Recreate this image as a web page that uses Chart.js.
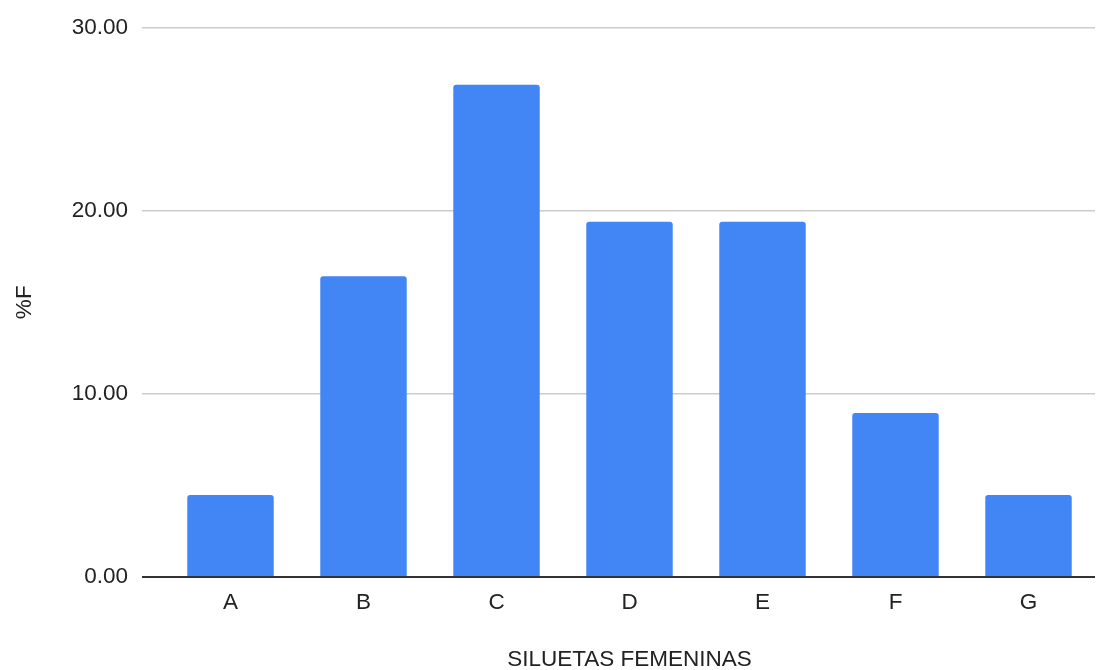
<!DOCTYPE html>
<html>
<head>
<meta charset="utf-8">
<script src="https://cdn.jsdelivr.net/npm/chart.js@4.4.1/dist/chart.umd.min.js"></script>
<style>
  html, body { margin: 0; padding: 0; background: #fff; }
  #wrap { width: 1106px; height: 670px; position: relative; }
</style>
</head>
<body>
<div id="wrap"><canvas id="siluetasChart"></canvas></div>
<script>
// data
const categories = ['A', 'B', 'C', 'D', 'E', 'F', 'G'];
const percentF = [4.48, 16.42, 26.87, 19.40, 19.40, 8.96, 4.48];
const yTicks = [0, 10, 20, 30];

const FONT = 'Arial, "Liberation Sans", sans-serif';
Chart.defaults.font.family = FONT;
Chart.defaults.color = '#222';

function loadChart() {
    const ctx = document.getElementById('siluetasChart').getContext('2d');
    new Chart(ctx, {
        type: 'bar',
        data: {
            labels: categories,
            datasets: [{
                label: '%F',
                data: percentF,
                backgroundColor: '#4285F4',
                borderRadius: 3,
                categoryPercentage: 1,
                barPercentage: 0.65
            }]
        },
        options: {
            responsive: true,
            maintainAspectRatio: false,
            animation: false,
            layout: { padding: { top: 27, right: 11, left: 0, bottom: 0 } },
            plugins: {
                legend: { display: false },
                tooltip: { enabled: false }
            },
            scales: {
                x: {
                    grid: { display: false, drawTicks: false },
                    border: { display: false },
                    ticks: { padding: 12, font: { size: 22.5 }, color: '#222' },
                    title: {
                        display: true,
                        text: 'SILUETAS FEMENINAS',
                        font: { size: 22.5 },
                        color: '#222',
                        padding: { top: 0, bottom: -3 }
                    },
                    afterFit: scale => { scale.height = 93; }
                },
                y: {
                    min: yTicks[0],
                    max: yTicks[yTicks.length - 1],
                    afterBuildTicks: scale => {
                        scale.ticks = yTicks.map(v => ({ value: v }));
                    },
                    grid: {
                        color: c => c.tick && c.tick.value === 0 ? '#333' : '#ccc',
                        lineWidth: c => c.tick && c.tick.value === 0 ? 2 : 1.5,
                        drawTicks: true,
                        tickLength: 22
                    },
                    border: { display: false },
                    ticks: {
                        padding: 14,
                        font: { size: 22.5 },
                        color: '#222',
                        callback: v => Number(v).toFixed(2)
                    },
                    title: {
                        display: true,
                        text: '%F',
                        font: { size: 22.5 },
                        color: '#222',
                        padding: { top: 11, bottom: 0 }
                    },
                    afterFit: scale => { scale.width = 164; }
                }
            }
        }
    });
}

document.addEventListener('DOMContentLoaded', loadChart);
</script>
</body>
</html>
